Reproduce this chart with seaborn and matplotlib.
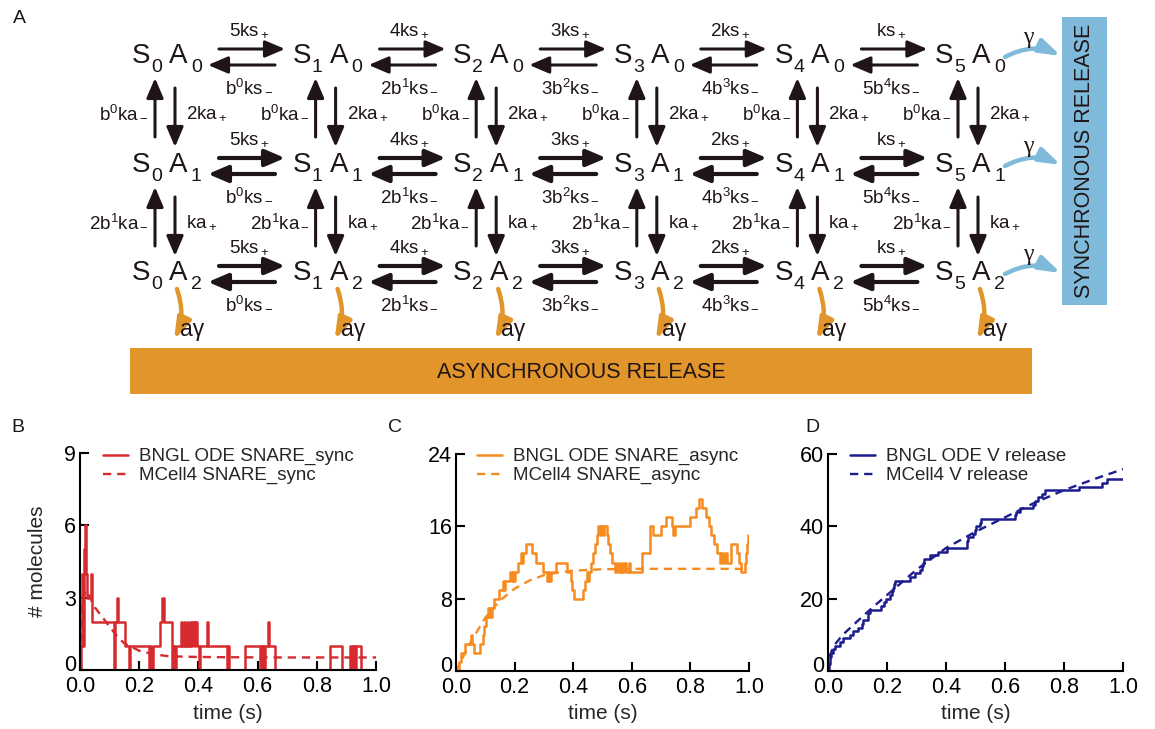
import matplotlib
matplotlib.use('Agg')
import matplotlib.pyplot as plt
import matplotlib.transforms as mtransforms
from matplotlib.patches import Rectangle
import seaborn as sns

# ---------------- data ----------------
# panel B: SNARE_sync
sync_t = [0.000, 0.004, 0.007, 0.010, 0.013, 0.016, 0.020, 0.023, 0.036, 0.040,
          0.115, 0.119, 0.126, 0.130, 0.152, 0.166, 0.170, 0.234, 0.238, 0.241,
          0.245, 0.270, 0.278, 0.283, 0.312, 0.316, 0.319, 0.323, 0.340, 0.344,
          0.352, 0.356, 0.362, 0.366, 0.370, 0.374, 0.378, 0.384, 0.390, 0.395,
          0.402, 0.406, 0.430, 0.434, 0.495, 0.500, 0.503, 0.557, 0.608, 0.611,
          0.614, 0.617, 0.620, 0.624, 0.634, 0.638, 0.660, 0.845, 0.885, 0.912,
          0.918, 0.921, 0.928, 0.931, 0.950, 1.000]
sync_n = [0, 1, 4, 1, 5, 6, 4, 3, 4, 2,
          0, 2, 3, 2, 1, 0, 1, 0, 1, 0,
          1, 2, 3, 2, 0, 1, 0, 1, 2, 1,
          2, 1, 2, 1, 2, 1, 2, 1, 2, 1,
          0, 1, 2, 1, 0, 1, 0, 1, 0, 1,
          0, 1, 0, 1, 2, 1, 0, 1, 0, 1,
          0, 1, 0, 1, 0, 0]
sync_fit_t = [0, 0.005, 0.01, 0.02, 0.03, 0.05, 0.075, 0.1, 0.125, 0.15, 0.2,
              0.25, 0.3, 0.4, 0.5, 0.7, 1.0]
sync_fit_n = [0, 2.2, 3.0, 3.3, 3.1, 2.6, 2.2, 1.8, 1.4, 1.1, 0.8,
              0.65, 0.57, 0.54, 0.53, 0.52, 0.52]

# panel C: SNARE_async
async_t = [0.000, 0.010, 0.016, 0.030, 0.052, 0.056, 0.060, 0.082, 0.092, 0.097,
           0.104, 0.108, 0.112, 0.116, 0.120, 0.124, 0.130, 0.148, 0.160, 0.164,
           0.168, 0.185, 0.190, 0.194, 0.198, 0.202, 0.210, 0.222, 0.226, 0.230,
           0.238, 0.258, 0.272, 0.296, 0.310, 0.314, 0.318, 0.324, 0.340, 0.378,
           0.392, 0.397, 0.402, 0.435, 0.440, 0.446, 0.450, 0.454, 0.462, 0.468,
           0.474, 0.480, 0.486, 0.492, 0.496, 0.502, 0.506, 0.514, 0.520, 0.526,
           0.534, 0.542, 0.550, 0.555, 0.562, 0.566, 0.575, 0.580, 0.590, 0.594,
           0.634, 0.662, 0.674, 0.700, 0.716, 0.737, 0.742, 0.748, 0.800, 0.818,
           0.830, 0.838, 0.844, 0.852, 0.862, 0.870, 0.880, 0.890, 0.900, 0.906,
           0.912, 0.918, 0.924, 0.940, 0.960, 0.966, 0.972, 0.986, 0.990, 0.994,
           0.998, 1.000]
async_n = [0, 1, 2, 3, 4, 3, 2, 3, 4, 5,
           6, 7, 6, 7, 6, 7, 8, 9, 10, 9,
           10, 11, 10, 11, 10, 11, 12, 13, 12, 13,
           14, 13, 12, 11, 10, 11, 10, 11, 12, 11,
           10, 9, 8, 9, 10, 11, 10, 11, 12, 13,
           14, 15, 16, 15, 16, 15, 16, 15, 14, 13,
           12, 11, 12, 11, 12, 11, 12, 11, 12, 11,
           13, 16, 15, 16, 17, 16, 15, 16, 17, 18,
           19, 18, 18, 17, 16, 15, 14, 13, 12, 13,
           12, 13, 12, 14, 13, 12, 11, 12, 13, 14,
           15, 15]
async_fit_t = [0, 0.05, 0.1, 0.15, 0.2, 0.25, 0.3, 0.35, 0.4, 0.5, 0.6, 0.8, 1.0]
async_fit_n = [0, 3.2, 5.9, 7.8, 9.1, 10.0, 10.6, 10.9, 11.1, 11.25, 11.3, 11.3, 11.3]

# panel D: V release
rel_t = [0.000, 0.003, 0.006, 0.010, 0.016, 0.024, 0.040, 0.052, 0.075, 0.086,
         0.103, 0.115, 0.120, 0.137, 0.143, 0.180, 0.190, 0.195, 0.210, 0.216,
         0.222, 0.225, 0.227, 0.278, 0.295, 0.312, 0.318, 0.323, 0.325, 0.347,
         0.374, 0.402, 0.470, 0.472, 0.476, 0.490, 0.497, 0.502, 0.515, 0.520,
         0.635, 0.638, 0.650, 0.695, 0.700, 0.713, 0.725, 0.735, 0.850, 0.928,
         0.945, 1.000]
rel_n = [0, 2, 4, 5, 6, 7, 8, 9, 10, 11,
         12, 13, 14, 16, 17, 18, 19, 20, 21, 22,
         23, 24, 25, 26, 27, 28, 29, 30, 31, 32,
         33, 34, 35, 36, 37, 38, 39, 40, 41, 42,
         43, 44, 45, 46, 47, 48, 49, 50, 51, 52,
         53, 53]
rel_fit_t = [0, 0.005, 0.02, 0.05, 0.1, 0.15, 0.2, 0.3, 0.4, 0.5, 0.6, 0.7, 0.8, 0.9, 1.0]
rel_fit_n = [0, 4, 7, 10, 13.8, 17.5, 21, 28, 34, 38.5, 42.5, 46.5, 50, 53, 55.8]

# diagram labels
fwd_labels = ['5ks$_+$', '4ks$_+$', '3ks$_+$', '2ks$_+$', 'ks$_+$']
bwd_labels = ['b$^0$ks$_-$', '2b$^1$ks$_-$', '3b$^2$ks$_-$', '4b$^3$ks$_-$', '5b$^4$ks$_-$']
up_labels = ['b$^0$ka$_-$', '2b$^1$ka$_-$']
down_labels = ['2ka$_+$', 'ka$_+$']

# ---------------- style ----------------
sns.set_theme(style='ticks')
plt.rcParams['font.family'] = ['Liberation Sans', 'DejaVu Sans']
plt.rcParams['mathtext.fontset'] = 'custom'
plt.rcParams['mathtext.rm'] = 'Liberation Sans'
plt.rcParams['mathtext.it'] = 'Liberation Sans:italic'
plt.rcParams['mathtext.bf'] = 'Liberation Sans:bold'

dark = '#1f1517'
red = '#d62a2e'
orange = '#f68b1f'
navy = '#1c1c8f'
sky = '#7fbadb'
amber = '#e1952b'

fig = plt.figure(figsize=(11.55, 7.29), dpi=100)

# ---------------- panel A: reaction scheme (pixel coordinates) ----------------
ax0 = fig.add_axes([0, 0, 1, 1])
ax0.set_xlim(0, 1155)
ax0.set_ylim(729, 0)
ax0.axis('off')


def arrow(p0, p1, color=dark, lw=2.2, ms=16, rad=0.0, hw=0.32, hl=0.75):
    ax0.annotate('', xy=p1, xytext=p0,
                 arrowprops=dict(arrowstyle=f'-|>,head_length={hl},head_width={hw}',
                                 color=color, lw=lw, mutation_scale=ms,
                                 shrinkA=0, shrinkB=0,
                                 connectionstyle=f'arc3,rad={rad}'))


col_x0, col_dx = 132, 160.6
row_base = [63, 172, 280]
row_lw = [2.2, 3.0, 3.0]
lab_fs = 13.5

for r, yb in enumerate(row_base):
    for i in range(6):
        xc = col_x0 + col_dx * i
        ax0.text(xc, yb, 'S', fontsize=20, va='baseline', color=dark)
        ax0.text(xc + 19, yb + 9, str(i), fontsize=14, va='baseline', color=dark)
        ax0.text(xc + 37, yb, 'A', fontsize=20, va='baseline', color=dark)
        ax0.text(xc + 59, yb + 9, str(r), fontsize=14, va='baseline', color=dark)
        if i < 5:
            arrow((xc + 87, yb - 14), (xc + 153, yb - 14), lw=row_lw[r])
            arrow((xc + 143, yb + 2), (xc + 76, yb + 2), lw=row_lw[r])
            ax0.text(xc + 117, yb - 28, fwd_labels[i], fontsize=lab_fs,
                     ha='center', va='baseline', color=dark)
            ax0.text(xc + 117, yb + 29, bwd_labels[i], fontsize=lab_fs,
                     ha='center', va='baseline', color=dark)
        if r < 2:
            arrow((xc + 23, yb + 74), (xc + 23, yb + 15))
            arrow((xc + 43, yb + 25), (xc + 43, yb + 84))
            ax0.text(xc + 17, yb + 55, up_labels[r], fontsize=lab_fs,
                     ha='right', va='baseline', color=dark)
            ax0.text(xc + 54, yb + 55, down_labels[r], fontsize=lab_fs,
                     ha='left', va='baseline', color=dark)
    # synchronous release arrows
    xc5 = col_x0 + col_dx * 5
    arrow((xc5 + 70, yb - 6), (xc5 + 126, yb - 7), color=sky, lw=3.2, rad=-0.25,
          hw=0.26, hl=0.8)
    ax0.text(xc5 + 93, yb - 26, '\u03b3', fontsize=17, ha='center', va='center',
             family='Liberation Serif', color=dark)

# asynchronous release arrows
for i in range(6):
    xc = col_x0 + col_dx * i
    arrow((xc + 45, 289), (xc + 42, 340), color=amber, lw=3.2, rad=-0.2, hw=0.26, hl=0.8)
    ax0.text(xc + 48, 336, 'a\u03b3', fontsize=16.5, va='baseline', color=dark)

ax0.add_patch(Rectangle((130, 348), 902, 46, color=amber, lw=0))
ax0.text(581, 372, 'ASYNCHRONOUS RELEASE', fontsize=15.5, ha='center', va='center', color=dark)
ax0.add_patch(Rectangle((1062, 17), 45, 288, color=sky, lw=0))
ax0.text(1085, 161, 'SYNCHRONOUS RELEASE', fontsize=15.5, rotation=90,
         ha='center', va='center', color=dark)

for letter, (lx, ly) in zip(['A', 'B', 'C', 'D'], [(19, 18), (18, 427), (395, 427), (812, 427)]):
    ax0.text(lx, ly, letter, fontsize=14, ha='center', va='center', color=dark)

# ---------------- panels B-D ----------------
W, H = 1155, 729
panels = [
    dict(rect=(80, 670, 296, 217), t=sync_t, n=sync_n, ft=sync_fit_t, fn=sync_fit_n,
         color=red, ymax=9, yt=[0, 3, 6, 9], leg=103,
         labels=['BNGL ODE SNARE_sync', 'MCell4 SNARE_sync']),
    dict(rect=(456, 671, 293, 217), t=async_t, n=async_n, ft=async_fit_t, fn=async_fit_n,
         color=orange, ymax=24, yt=[0, 8, 16, 24], leg=477,
         labels=['BNGL ODE SNARE_async', 'MCell4 SNARE_async']),
    dict(rect=(828, 671, 295, 217), t=rel_t, n=rel_n, ft=rel_fit_t, fn=rel_fit_n,
         color=navy, ymax=60, yt=[0, 20, 40, 60], leg=850,
         labels=['BNGL ODE V release', 'MCell4 V release']),
]

lift = mtransforms.ScaledTranslation(0, 5 / 72, fig.dpi_scale_trans)

for k, p in enumerate(panels):
    x0, yb, w, h = p['rect']
    ax = fig.add_axes([x0 / W, (H - yb) / H, w / W, h / H])
    ax.set_facecolor('none')
    sns.lineplot(x=p['t'], y=p['n'], ax=ax, drawstyle='steps-post', color=p['color'],
                 lw=1.8, estimator=None, label=p['labels'][0])
    sns.lineplot(x=p['ft'], y=p['fn'], ax=ax, color=p['color'], lw=1.7,
                 linestyle=(0, (3.5, 2.5)), estimator=None, label=p['labels'][1])
    ax.set_xlim(0, 1)
    ax.set_ylim(0, p['ymax'])
    ax.set_xticks([0, 0.2, 0.4, 0.6, 0.8, 1.0])
    ax.set_xticklabels(['0.0', '0.2', '0.4', '0.6', '0.8', '1.0'])
    ax.set_yticks(p['yt'])
    ax.tick_params(direction='in', length=6.5, width=1.5, labelsize=15.5,
                   colors='black', pad=3)
    ax.tick_params(axis='x', pad=4.5)
    # the "0" on the y axis sits a little above its tick, clear of "0.0"
    zero_lab = ax.yaxis.get_major_ticks()[0].label1
    zero_lab.set_transform(zero_lab.get_transform() + lift)
    for s in ['top', 'right']:
        ax.spines[s].set_visible(False)
    for s in ['left', 'bottom']:
        ax.spines[s].set_linewidth(1.5)
        ax.spines[s].set_color('black')
    ax.set_xlabel('time (s)', fontsize=15)
    ax.xaxis.set_label_coords(0.5, (yb - 704) / h)
    if k == 0:
        ax.set_ylabel('# molecules', fontsize=15)
        ax.yaxis.set_label_coords((47 - x0) / w, 0.5)
    else:
        ax.set_ylabel('')
    ax.legend(loc='upper left', bbox_to_anchor=(p['leg'] / W, (H - 448) / H),
              bbox_transform=fig.transFigure, frameon=False, fontsize=13.5,
              handlelength=1.35, handletextpad=0.55, labelspacing=0.1,
              borderpad=0, borderaxespad=0)

fig.savefig('out.png', dpi=100)
